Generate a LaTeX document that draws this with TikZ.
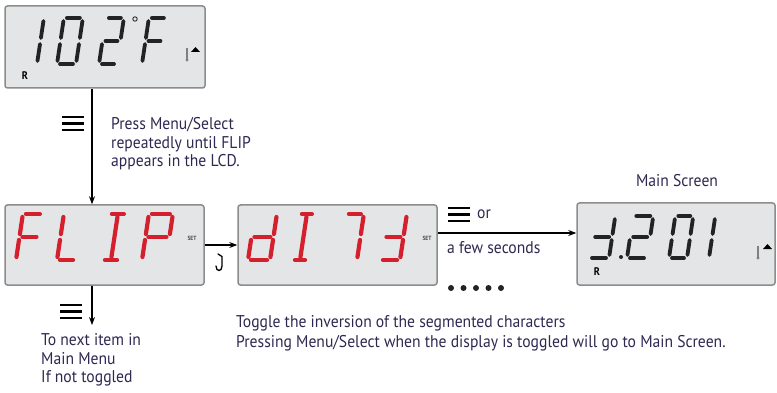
\documentclass[tikz,border=0pt]{standalone}
\usepackage{fontspec}
\setmainfont{PT Sans}[FakeStretch=0.92]
\usetikzlibrary{arrows.meta}

\definecolor{lcdgray}{RGB}{228,229,231}
\definecolor{lcdframe}{RGB}{140,140,140}
\definecolor{lcdred}{RGB}{212,32,45}
\definecolor{lcdblack}{RGB}{35,35,35}
\definecolor{notecol}{RGB}{45,40,80}

\tikzset{
	lcdbox/.style={draw=lcdframe, line width=1.5pt, fill=lcdgray, rounded corners=2.5pt, inner sep=0pt},
	lcdseg/.style={line width=3.8pt, line cap=round},
	notetext/.style={text=notecol, font=\fontsize{17}{18.5}\selectfont, align=left, inner sep=0pt, anchor=west},
	settext/.style={text=black!70, font=\fontsize{6}{6}\selectfont\bfseries, inner sep=0pt},
	flow/.style={line width=1.2pt, -{Stealth[length=8pt, width=6pt]}},
	menubars/.pic={\foreach \d in {-6.5,0,6.5} \draw[line width=2.8pt] (-11,\d) -- (11,\d);}
}

% one segmented character: x, baseline, width, height, colour, segments
\newcommand{\lcdchar}[6]{%
	\begin{scope}[shift={(#1,#2)}, xslant=0.15]
		\coordinate (a1) at (3,-#4);       \coordinate (a2) at (#3-3,-#4);
		\coordinate (b1) at (#3,-#4+3);    \coordinate (b2) at (#3,-#4/2-3);
		\coordinate (c1) at (#3,-#4/2+3);  \coordinate (c2) at (#3,-3);
		\coordinate (d1) at (3,0);         \coordinate (d2) at (#3-3,0);
		\coordinate (e1) at (0,-#4/2+3);   \coordinate (e2) at (0,-3);
		\coordinate (f1) at (0,-#4+3);     \coordinate (f2) at (0,-#4/2-3);
		\coordinate (g1) at (3,-#4/2);     \coordinate (g2) at (#3-3,-#4/2);
		\coordinate (m1) at (#3/2,-#4+3);  \coordinate (m2) at (#3/2,-3);
		\foreach \s in {#6}
			\draw[lcdseg, #5] (\s1) -- (\s2);
	\end{scope}}

\begin{document}
\begin{tikzpicture}[x=1pt, y=-1pt]
	\useasboundingbox (0,0) rectangle (777,393);
	
	%displays
	\node[lcdbox, minimum width=200pt, minimum height=82pt] (temp) at (105,47) {};
	\node[lcdbox, minimum width=199pt, minimum height=80pt] (flip) at (104.5,245) {};
	\node[lcdbox, minimum width=199pt, minimum height=80pt] (inv) at (337.5,245) {};
	\node[lcdbox, minimum width=198pt, minimum height=82pt] (main) at (676,244) {};
	
	%102F
	\lcdchar{37}{64}{0}{46}{lcdblack}{b,c}
	\lcdchar{57}{64}{19}{46}{lcdblack}{a,b,c,d,e,f}
	\lcdchar{99}{64}{18}{46}{lcdblack}{a,b,g,e,d}
	\lcdchar{142}{64}{18}{46}{lcdblack}{a,f,e,g}
	\draw[lcdblack, line width=0.9pt] (135,19) circle (2.2);
	\node[font=\bfseries\fontsize{11}{11}\selectfont, inner sep=0pt] (r1) at (25,76) {R};
	\draw[gray, line width=1.6pt] (187,48) -- (187,59);
	\fill[gray] (187,60) circle (1.6);
	\fill (191,52) -- (200,52) -- (195.5,47) -- cycle;
	
	%FLIP
	\lcdchar{16}{260}{20}{46}{lcdred, line width=4.2pt}{a,f,e,g}
	\lcdchar{57}{260}{19}{46}{lcdred, line width=4.2pt}{f,e,d}
	\lcdchar{102}{260}{18}{46}{lcdred, line width=4.2pt}{a,d,m}
	\lcdchar{142}{260}{24}{46}{lcdred, line width=4.2pt}{a,b,f,e,g}
	\node[settext] (set1) at (192,238) {SET};
	
	%inverted
	\lcdchar{248}{260}{22}{46}{lcdred, line width=4.2pt}{b,c,d,e,g}
	\lcdchar{292}{260}{16}{46}{lcdred, line width=4.2pt}{a,d,m}
	\lcdchar{339}{260}{18}{46}{lcdred, line width=4.2pt}{a,b,c}
	\lcdchar{380}{260}{20}{46}{lcdred, line width=4.2pt}{d,c,b,g}
	\node[settext] (set2) at (427,238) {SET};
	
	%main screen
	\lcdchar{589}{258}{20}{42}{lcdblack}{d,c,b,g}
	\fill[lcdblack] (621,257) circle (2);
	\lcdchar{627}{258}{20}{42}{lcdblack}{a,b,g,e,d}
	\lcdchar{669}{258}{18}{42}{lcdblack}{a,b,c,d,e,f}
	\lcdchar{709}{258}{0}{42}{lcdblack}{b,c}
	\node[font=\bfseries\fontsize{11}{11}\selectfont, inner sep=0pt] (r2) at (597,272) {R};
	\draw[gray, line width=1.6pt] (758,246) -- (758,257);
	\fill[gray] (758,258) circle (1.6);
	\fill (763,249) -- (772,249) -- (767.5,244) -- cycle;
	\node[notetext, anchor=center] (mainlbl) at (677,181) {Main Screen};
	
	%connectors
	\coordinate (next) at (92,325);
	\draw[flow] ([xshift=-13pt]temp.south) -- ([xshift=-12.5pt]flip.north);
	\draw[flow] ([xshift=-12.5pt]flip.south) -- (next);
	\draw[flow] (flip.east) -- (inv.west);
	\draw[flow] ([yshift=12pt]inv.east) -- ([yshift=12pt]inv.east -| main.west);
	
	%hold icon
	\draw[line width=1.3pt, line cap=round] (218,254) -- (222,256.5) -- (222,266) .. controls (222,272) and (216,272) .. (216,266);
	
	%menu icons
	\pic at (73,123.5) {menubars};
	\pic at (71,311.5) {menubars};
	\pic at (459,214.5) {menubars};
	
	%notes
	\node[notetext] (press) at (111,144) {Press Menu/Select\\repeatedly until FLIP\\appears in the LCD.};
	\node[notetext] (or) at (477,214) {or};
	\node[notetext] (wait) at (447,248) {a few seconds};
	\node[notetext] (nextlbl) at (41,360) {To next item in\\Main Menu\\If not toggled};
	\node[notetext, font=\fontsize{17}{20}\selectfont] (toggle) at (236,333) {Toggle the inversion of the segmented characters\\Pressing Menu/Select when the display is toggled will go to Main Screen.};
	\foreach \x in {0,1,...,4}
		\fill[lcdblack] (451+\x*12.5,288) circle (3);
\end{tikzpicture}
\end{document}
